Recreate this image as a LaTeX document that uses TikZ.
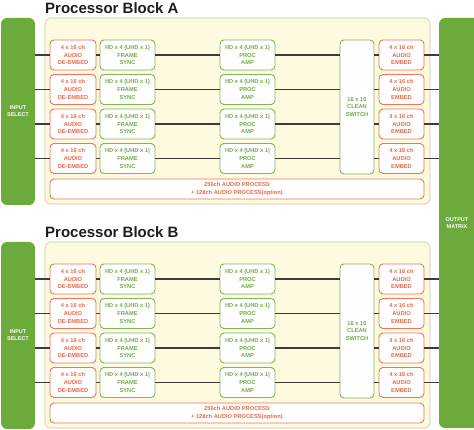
\documentclass[tikz,border=0pt]{standalone}
\usepackage{fontspec}
\setmainfont{Liberation Sans}
\definecolor{gfill}{RGB}{108,170,60}
\definecolor{gline}{RGB}{128,182,88}
\definecolor{gtext}{RGB}{112,172,72}
\definecolor{oline}{RGB}{236,118,88}
\definecolor{otext}{RGB}{232,106,72}
\definecolor{pfill}{RGB}{253,250,224}
\definecolor{pborder}{RGB}{222,222,205}
\definecolor{conn}{RGB}{60,60,60}
\definecolor{titlec}{RGB}{30,30,30}
\tikzset{
  small/.style={font=\fontsize{5.7}{7.6}\selectfont\bfseries, align=center, inner sep=0pt},
  obox/.style={small, draw=oline, fill=white, line width=0.9pt, rounded corners=4pt, text=otext, minimum height=30pt},
  gbox/.style={small, draw=gline, fill=white, line width=0.9pt, rounded corners=4pt, text=gtext, minimum height=30pt},
  deemb/.style={obox, minimum width=46pt},
  emb/.style={obox, minimum width=45pt},
  fsbox/.style={gbox, minimum width=55pt},
  bar/.style={fill=gfill, draw=none, rounded corners=6pt},
  panel/.style={fill=pfill, draw=pborder, line width=1.3pt, rounded corners=6pt},
  bartext/.style={small, text=white, font=\fontsize{5.5}{7.6}\selectfont\bfseries},
  wire/.style={draw=conn, line width=1.05pt},
  title/.style={font=\fontsize{15}{18}\selectfont\bfseries, text=titlec, inner sep=0pt, anchor=base west}
}
\begin{document}
\begin{tikzpicture}[x=1pt,y=-1pt]
\useasboundingbox (0,0) rectangle (474,430);
% right output bar
\path[bar] (439,18) rectangle (482,428);
\coordinate (outW) at (439,223);
\node[bartext] (outtxt) at (457,223) {OUTPUT\\MATRIX};
\foreach \b/\o in {A/0,B/224}{
  \node[title] (title\b) at (45,13.5+\o) {Processor Block \b};
  \path[bar] (1,18+\o) rectangle (35,205+\o);
  \coordinate (inE\b) at (35,111+\o);
  \node[bartext] (intxt\b) at (18,111+\o) {INPUT\\SELECT};
  \path[panel] (45,18+\o) rectangle (430,204+\o);
  \node[gbox, minimum width=34pt, minimum height=134pt] (cs\b) at (357,107+\o) {16 x 16\\CLEAN\\SWITCH};
  \node[obox, minimum width=374pt, minimum height=20pt] (ap\b) at (237,189+\o) {256ch AUDIO PROCESS\\+ 128ch AUDIO PROCESS(option)};
  \foreach \r/\y in {1/55,2/89.5,3/124,4/158.5}{
    \node[deemb] (de\b\r) at (73,\y+\o) {4 x 16 ch\\AUDIO\\DE-EMBED};
    \node[fsbox] (fs\b\r) at (127.5,\y+\o) {HD x 4 (UHD x 1)\\FRAME\\SYNC};
    \node[fsbox] (pa\b\r) at (247.5,\y+\o) {HD x 4 (UHD x 1)\\PROC\\AMP};
    \node[emb] (em\b\r) at (401.5,\y+\o) {4 x 16 ch\\AUDIO\\EMBED};
    \draw[wire] (inE\b |- de\b\r.west) -- (de\b\r.west);
    \draw[wire] (de\b\r.east) -- (fs\b\r.west);
    \draw[wire] (fs\b\r.east) -- (pa\b\r.west);
    \draw[wire] (pa\b\r.east) -- (pa\b\r.east -| cs\b.west);
    \draw[wire] (em\b\r.west -| cs\b.east) -- (em\b\r.west);
    \draw[wire] (em\b\r.east) -- (outW |- em\b\r.east);
  }
}
\end{tikzpicture}
\end{document}
